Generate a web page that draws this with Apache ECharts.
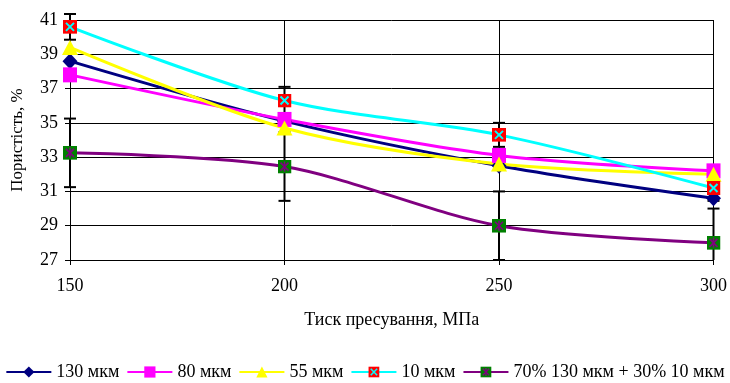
<!DOCTYPE html>
<html><head><meta charset="utf-8">
<script src="https://cdn.jsdelivr.net/npm/echarts@6/dist/echarts.min.js"></script>
<style>html,body{margin:0;padding:0;background:#fff}#c{width:730px;height:383px}</style>
</head><body><div id="c"></div>
<script>
const pressures = [150, 200, 250, 300];
const s130 = [38.6, 35.1, 32.5, 30.6];
const s80 = [37.8, 35.2, 33.1, 32.2];
const s55 = [39.4, 34.7, 32.6, 32.0];
const s10 = [40.6, 36.3, 34.3, 31.2];
const sMix = [33.25, 32.45, 29.0, 28.0];
const err10 = [0.75, 0.8, 0.7, 0.75];
const errMix = [2, 2, 2, 2];
const names = ['130 мкм', '80 мкм', '55 мкм', '10 мкм', '70% 130 мкм + 30% 10 мкм'];
const Y_MIN = 27, Y_MAX = 41;
const FONT = 'Liberation Serif';

function svgUri(s){return 'image://data:image/svg+xml;charset=utf-8,' + encodeURIComponent(s);}
const tenSym = svgUri("<svg xmlns='http://www.w3.org/2000/svg' width='14' height='14'><rect width='14' height='14' fill='#ff0000'/><path d='M3 3L11 11M11 3L3 11' stroke='#00ffff' stroke-width='2'/></svg>");
const mixSym = svgUri("<svg xmlns='http://www.w3.org/2000/svg' width='14' height='14'><rect width='14' height='14' fill='#008000'/><path d='M7 2V12M3 3L11 11M11 3L3 11' stroke='#800080' stroke-width='1.6'/></svg>");

function pairs(arr){return pressures.map((p,i)=>[p,arr[i]]);}
function errData(arr, e){return pressures.map((p,i)=>[p,arr[i]-e[i],arr[i]+e[i]]);}

function errSeries(data){
  return {type:'custom', silent:true, z:1, clip:false, data:data,
    renderItem:function(params, api){
      const x = api.value(0), lo = api.value(1), hi = api.value(2);
      const loC = Math.max(lo, Y_MIN);
      const pLo = api.coord([x, loC]), pHi = api.coord([x, hi]);
      const w = 6;
      const kids = [
        {type:'line', shape:{x1:pLo[0],y1:pLo[1],x2:pHi[0],y2:pHi[1]}, style:{stroke:'#000', lineWidth:2}},
        {type:'line', shape:{x1:pHi[0]-w,y1:pHi[1],x2:pHi[0]+w,y2:pHi[1]}, style:{stroke:'#000', lineWidth:2}}
      ];
      if (lo >= Y_MIN) kids.push({type:'line', shape:{x1:pLo[0]-w,y1:pLo[1],x2:pLo[0]+w,y2:pLo[1]}, style:{stroke:'#000', lineWidth:2}});
      return {type:'group', children:kids};
    }};
}

const chart = echarts.init(document.getElementById('c'), null, {renderer:'canvas'});
const lineBase = {type:'line', smooth:0.3, z:3, lineStyle:{width:3}, emphasis:{disabled:true}};
chart.setOption({
  animation:false,
  backgroundColor:'#fff',
  grid:{left:70, right:15, top:20, bottom:123},
  xAxis:{type:'value', min:150, max:300, interval:50,
    name:'Тиск пресування, МПа', nameLocation:'middle', nameGap:51,
    nameTextStyle:{fontFamily:FONT, fontSize:18, color:'#000'},
    axisLine:{lineStyle:{color:'#000', width:1}},
    axisTick:{show:true, length:5, lineStyle:{color:'#000'}},
    axisLabel:{fontFamily:FONT, fontSize:18, color:'#000', margin:17},
    splitLine:{show:true, lineStyle:{color:'#000', width:1}}},
  yAxis:{type:'value', min:Y_MIN, max:Y_MAX, interval:2,
    name:'Пористість, %', nameLocation:'middle', nameGap:44,
    nameTextStyle:{fontFamily:FONT, fontSize:17, color:'#000'},
    axisLine:{show:true, lineStyle:{color:'#000', width:1}},
    axisTick:{show:true, length:5, lineStyle:{color:'#000'}},
    axisLabel:{fontFamily:FONT, fontSize:18, color:'#000', margin:12},
    splitLine:{show:true, lineStyle:{color:'#000', width:1}}},
  legend:{top:358, left:'center', itemWidth:45, itemHeight:14, itemGap:7,
    textStyle:{fontFamily:FONT, fontSize:18, color:'#000'},
    data:names},
  series:[
    errSeries(errData(s10, err10)),
    errSeries(errData(sMix, errMix)),
    Object.assign({}, lineBase, {name:names[0], data:pairs(s130), color:'#000080', symbol:'diamond', symbolSize:[15,16]}),
    Object.assign({}, lineBase, {name:names[1], data:pairs(s80), color:'#ff00ff', symbol:'rect', symbolSize:[14,15]}),
    Object.assign({}, lineBase, {name:names[2], data:pairs(s55), color:'#ffff00', symbol:'triangle', symbolSize:[16,15]}),
    Object.assign({}, lineBase, {name:names[3], data:pairs(s10), color:'#00ffff', symbol:tenSym, symbolSize:14, itemStyle:{color:'#00ffff'}}),
    Object.assign({}, lineBase, {name:names[4], data:pairs(sMix), color:'#800080', symbol:mixSym, symbolSize:14})
  ]
});
</script></body></html>
